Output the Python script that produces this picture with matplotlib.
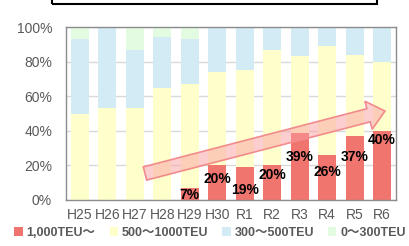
import matplotlib
matplotlib.use("Agg")
import matplotlib.pyplot as plt
import numpy as np
from matplotlib.patches import Patch, Polygon, Rectangle

plt.rcParams['font.family'] = ['Liberation Sans', 'Noto Sans CJK JP', 'DejaVu Sans']

# data (share in %)
years = ["H25", "H26", "H27", "H28", "H29", "H30", "R1", "R2", "R3", "R4", "R5", "R6"]
teu_1000 = [0, 0, 0, 0, 7, 20, 19, 20, 39, 26, 37, 40]
teu_500 = [50, 53, 53, 65, 60, 54, 56, 67, 44, 63, 47, 40]
teu_300 = [43, 47, 34, 29, 26, 26, 25, 13, 17, 11, 16, 20]
teu_0 = [7, 0, 13, 6, 7, 0, 0, 0, 0, 0, 0, 0]
series_names = ["1,000TEU〜", "500〜1000TEU", "300〜500TEU", "0〜300TEU"]

colors = ["#F0756E", "#FFFFCC", "#D3EBF5", "#E3FBE1"]
# how far below the top of the red bar each label sits (percentage points)
label_nudge = [0, 0, 0, 0, 4, 8, 13, 5.5, 14, 10, 12, 5.5]

fig = plt.figure(figsize=(4.09, 2.46), dpi=100)
ax = fig.add_axes([0.1614, 0.187, 0.8066, 0.703])

x = np.arange(len(years))
w = 0.65
bottom = np.zeros(len(years))
for vals, c in zip([teu_1000, teu_500, teu_300, teu_0], colors):
    ax.bar(x, vals, w, bottom=bottom, color=c, zorder=2)
    bottom += np.array(vals)

for i, v in enumerate(teu_1000):
    if v > 0:
        ax.text(x[i], v - label_nudge[i], f"{v}%", ha="center", va="center",
                fontsize=10, fontweight="bold", color="black", zorder=5)

ax.set_xlim(-0.5, 11.5)
ax.set_ylim(0, 100)
ax.set_xticks(x)
ax.set_xticklabels(years)
ax.set_yticks(range(0, 101, 20))
ax.set_yticklabels([f"{t}%" for t in range(0, 101, 20)])
ax.tick_params(axis="both", length=0, labelsize=10, labelcolor="#595959")
ax.tick_params(axis="y", pad=10)
ax.tick_params(axis="x", pad=6)
ax.yaxis.grid(True, color="#D9D9D9", lw=1)
ax.set_axisbelow(True)
for s in ax.spines.values():
    s.set_color("#8C8C8C")
    s.set_linewidth(1)

# big pink trend arrow (figure pixel coords, image y downwards)
W, H = 409, 246
tail = np.array([145.0, 173.5])
tip = np.array([385.0, 111.0])
d = tip - tail
L = np.hypot(*d)
u = d / L
n = np.array([u[1], -u[0]]) * -1
hw, hhw, hl = 6.8, 14.5, 17.0
base = tip - u * hl
pts = [tail - n * hw, base - n * hw, base - n * hhw, tip,
       base + n * hhw, base + n * hw, tail + n * hw]
pts = [(p[0] / W, (H - p[1]) / H) for p in pts]
fig.patches.append(Polygon(pts, closed=True, transform=fig.transFigure,
                           facecolor=(0.98, 0.62, 0.64, 0.5),
                           edgecolor="#F28B8B", lw=1.2, zorder=4))

# box edge at top (title frame cut off)
fig.patches.append(Rectangle((51.7 / W, (H - 4) / H), (376.7 - 51.7) / W, 0.1,
                             transform=fig.transFigure, fill=False,
                             edgecolor="black", lw=1.5))

handles = [Patch(facecolor=c, edgecolor="none") for c in colors]
fig.legend(handles, series_names, loc="center", bbox_to_anchor=(210 / W, (H - 233) / H),
           ncol=4, frameon=False, handlelength=0.65, handleheight=0.65,
           handletextpad=0.3, columnspacing=1.15,
           prop={"size": 9, "weight": "bold"}, labelcolor="#595959")

fig.savefig("out.png", dpi=100)
